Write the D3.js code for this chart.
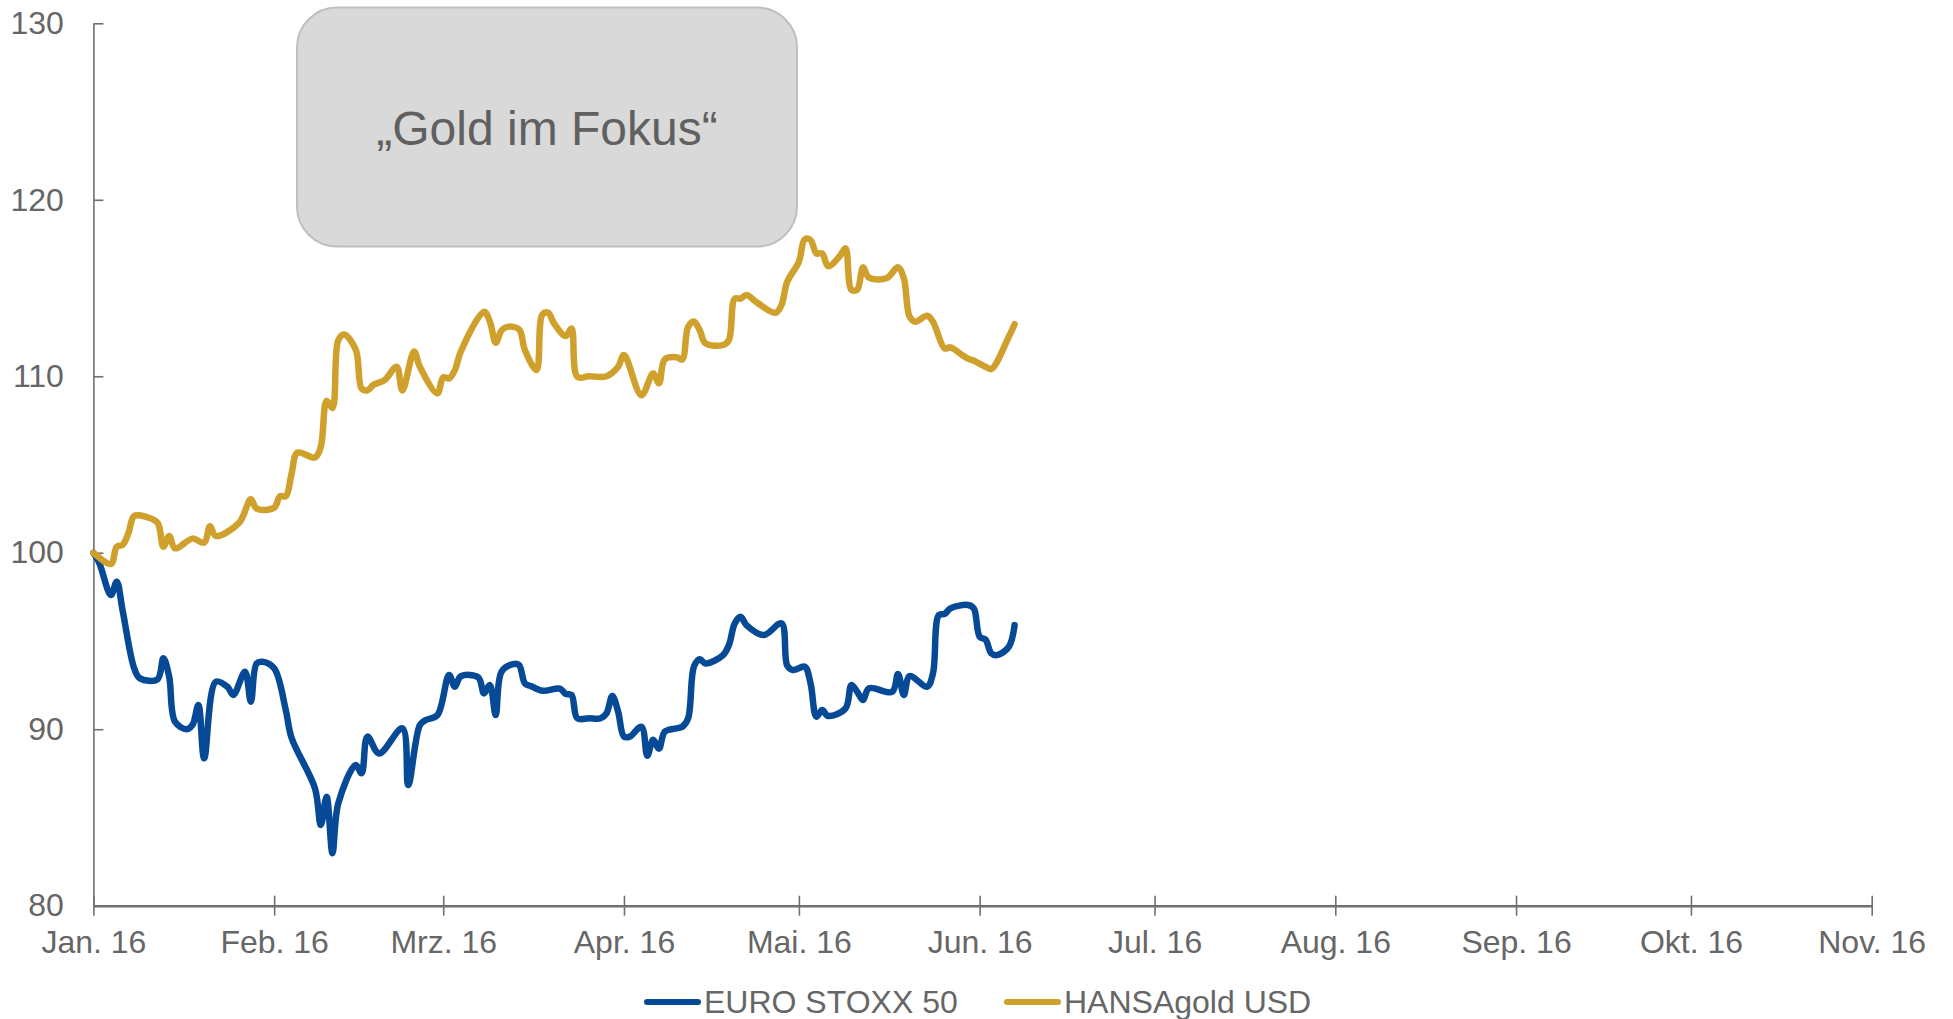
<!DOCTYPE html>
<html>
<head>
  <meta charset="utf-8" />
  <title>Gold im Fokus</title>
  <script src="https://d3js.org/d3.v7.min.js"></script>
  <style>
    body, html {
      margin: 0;
      padding: 0;
      background: #fff;
    }
    svg text {
      font-family: "Liberation Sans", Arial, sans-serif;
      fill: #666;
    }
  </style>
</head>
<body>
<svg id="chart" width="1953" height="1019"></svg>
<script>
// month tick labels
var monthLabels = ["Jan. 16", "Feb. 16", "Mrz. 16", "Apr. 16", "Mai. 16", "Jun. 16",
                   "Jul. 16", "Aug. 16", "Sep. 16", "Okt. 16", "Nov. 16"];
var yTicks = [80, 90, 100, 110, 120, 130];
var seriesNames = ["EURO STOXX 50", "HANSAgold USD"];

// EURO STOXX 50 (indexed, 100 = start)
var stoxxDates = ["2016-01-01","2016-01-02","2016-01-04","2016-01-05","2016-01-06","2016-01-08","2016-01-09",
  "2016-01-12","2016-01-13","2016-01-14","2016-01-15","2016-01-17","2016-01-18","2016-01-19","2016-01-20",
  "2016-01-22","2016-01-24","2016-01-25","2016-01-27","2016-01-28","2016-01-29","2016-01-30","2016-02-01",
  "2016-02-03","2016-02-04","2016-02-08","2016-02-09","2016-02-10","2016-02-11","2016-02-12","2016-02-15",
  "2016-02-16","2016-02-17","2016-02-19","2016-02-23","2016-02-24","2016-02-26","2016-02-27","2016-02-29",
  "2016-03-02","2016-03-03","2016-03-04","2016-03-07","2016-03-08","2016-03-09","2016-03-10","2016-03-11",
  "2016-03-13","2016-03-14","2016-03-15","2016-03-16","2016-03-18","2016-03-21","2016-03-22","2016-03-23",
  "2016-03-24","2016-03-26","2016-03-28","2016-03-29","2016-03-30","2016-03-31","2016-04-01","2016-04-02",
  "2016-04-04","2016-04-05","2016-04-06","2016-04-07","2016-04-08","2016-04-10","2016-04-11","2016-04-12",
  "2016-04-13","2016-04-14","2016-04-15","2016-04-18","2016-04-19","2016-04-20","2016-04-21","2016-04-22",
  "2016-04-25","2016-04-28","2016-04-29","2016-04-30","2016-05-02","2016-05-03","2016-05-04","2016-05-05",
  "2016-05-06","2016-05-09","2016-05-10","2016-05-11","2016-05-12","2016-05-13","2016-05-17","2016-05-18",
  "2016-05-19","2016-05-20","2016-05-23","2016-05-24","2016-05-25","2016-05-26","2016-05-27","2016-05-30",
  "2016-05-31","2016-06-01","2016-06-02","2016-06-03","2016-06-04","2016-06-06","2016-06-07"];
var stoxxValues = [100, 99.43, 97.6, 98.36, 96.75, 93.45, 92.88,
  92.83, 94.02, 92.97, 90.42, 90.0, 90.24, 91.37, 88.35,
  92.69, 92.4, 91.94, 93.26, 91.56, 93.73, 93.82, 93.45,
  91.08, 89.5, 86.65, 84.57, 86.18, 82.97, 85.8, 87.97,
  87.5, 89.58, 88.63, 90.05, 86.84, 90.24, 90.52, 90.8,
  93.07, 92.41, 93.0, 92.94, 92.03, 92.5, 90.8, 93.26,
  93.69, 93.64, 92.6, 92.45, 92.18, 92.3, 92.0, 91.94,
  90.62, 90.62, 90.62, 90.9, 91.88, 90.99, 89.58, 89.58,
  90.14, 88.5, 89.4, 88.9, 89.86, 90.05, 90.14, 90.62,
  93.54, 93.96, 93.73, 94.2, 94.77, 96.0, 96.37, 95.9,
  95.34, 96.0, 93.6, 93.35, 93.54, 92.6, 90.71, 91.09,
  90.75, 91.18, 92.5, 92.12, 91.65, 92.32, 92.12, 93.13,
  91.94, 93.01, 92.41, 93.17, 96.47, 96.53, 96.85, 97.04,
  96.85, 95.24, 95.08, 94.3, 94.2, 94.67, 95.9];

// HANSAgold USD (indexed, 100 = start)
var goldDates = ["2016-01-01","2016-01-04","2016-01-05","2016-01-06","2016-01-07","2016-01-08","2016-01-10",
  "2016-01-12","2016-01-13","2016-01-14","2016-01-15","2016-01-18","2016-01-20","2016-01-21","2016-01-22",
  "2016-01-26","2016-01-28","2016-01-29","2016-02-01","2016-02-02","2016-02-03","2016-02-04","2016-02-05",
  "2016-02-08","2016-02-09","2016-02-10","2016-02-11","2016-02-12","2016-02-13","2016-02-15","2016-02-16",
  "2016-02-17","2016-02-18","2016-02-20","2016-02-22","2016-02-23","2016-02-25","2016-02-26","2016-02-29",
  "2016-03-01","2016-03-02","2016-03-03","2016-03-04","2016-03-08","2016-03-09","2016-03-10","2016-03-11",
  "2016-03-12","2016-03-14","2016-03-15","2016-03-17","2016-03-18","2016-03-19","2016-03-20","2016-03-22",
  "2016-03-23","2016-03-24","2016-03-26","2016-03-29","2016-03-31","2016-04-01","2016-04-04","2016-04-06",
  "2016-04-07","2016-04-08","2016-04-10","2016-04-11","2016-04-12","2016-04-13","2016-04-14","2016-04-15",
  "2016-04-18","2016-04-19","2016-04-20","2016-04-21","2016-04-22","2016-04-24","2016-04-27","2016-04-28",
  "2016-04-29","2016-05-01","2016-05-02","2016-05-03","2016-05-04","2016-05-05","2016-05-06","2016-05-08",
  "2016-05-09","2016-05-10","2016-05-11","2016-05-12","2016-05-13","2016-05-16","2016-05-18","2016-05-19",
  "2016-05-20","2016-05-21","2016-05-23","2016-05-24","2016-05-26","2016-05-27","2016-05-29","2016-05-30",
  "2016-05-31","2016-06-02","2016-06-03","2016-06-06","2016-06-07"];
var goldValues = [100.0, 99.36, 100.34, 100.44, 101.1, 102.08, 102.04,
  101.7, 100.34, 100.95, 100.25, 100.8, 100.57, 101.5, 100.95,
  101.7, 103.03, 102.5, 102.55, 103.2, 103.2, 104.5, 105.67,
  105.4, 106.0, 108.6, 108.2, 112.05, 112.37, 111.5, 109.3,
  109.2, 109.5, 109.8, 110.54, 109.2, 111.4, 110.54, 109.03,
  109.94, 109.88, 110.35, 111.39, 113.65, 113.1, 111.9, 112.6,
  112.8, 112.66, 111.5, 110.35, 113.5, 113.6, 113.0, 112.28,
  112.71, 109.97, 110.0, 110.0, 110.54, 111.2, 108.93, 110.16,
  109.6, 110.96, 111.08, 110.96, 112.8, 113.1, 112.6, 111.86,
  111.77, 112.05, 114.4, 114.4, 114.6, 114.13, 113.6, 114.03,
  115.35, 116.49, 117.76, 117.72, 116.96, 116.96, 116.24, 116.8,
  117.25, 114.9, 114.9, 116.17, 115.6, 115.55, 116.17, 115.55,
  113.37, 113.09, 113.43, 113.09, 111.58, 111.64, 111.2, 111.0,
  110.88, 110.54, 110.41, 112.24, 112.95];

var parseDate = d3.timeParse("%Y-%m-%d");
var svg = d3.select("#chart");

var x = d3.scaleTime()
  .domain([new Date(2016, 0, 1), new Date(2016, 10, 1)])
  .range([93.4, 1871.7]);

var y = d3.scaleLinear()
  .domain([80, 130])
  .range([905.7, 23.3]);

// annotation box
svg.append("rect")
  .attr("x", 297).attr("y", 7.5)
  .attr("width", 500).attr("height", 239)
  .attr("rx", 40).attr("ry", 40)
  .attr("fill", "#d9d9d9")
  .attr("stroke", "#bfbfbf")
  .attr("stroke-width", 2);

svg.append("text")
  .attr("x", 547).attr("y", 145)
  .attr("text-anchor", "middle")
  .style("font-size", "48px")
  .style("fill", "#606060")
  .text("\u201EGold im Fokus\u201C");

// y axis
var yAxis = svg.append("g")
  .attr("transform", "translate(" + x.range()[0] + ",0)")
  .call(d3.axisLeft(y).tickValues(yTicks).tickSizeInner(10).tickSizeOuter(0).tickPadding(19.5));
yAxis.select(".domain").attr("stroke", "#707070").attr("stroke-width", 1.6);
yAxis.selectAll(".tick line").attr("x2", 10).attr("stroke", "#707070").attr("stroke-width", 1.6);
yAxis.selectAll(".tick text").style("font-size", "32px").attr("fill", "#666");

// x axis
var monthTicks = d3.timeMonth.range(new Date(2016, 0, 1), new Date(2016, 10, 2));
var xAxis = svg.append("g")
  .attr("transform", "translate(0," + y(80) + ")")
  .call(d3.axisBottom(x).tickValues(monthTicks)
    .tickFormat(function(d, i) { return monthLabels[i]; })
    .tickSizeInner(10).tickSizeOuter(0).tickPadding(15));
xAxis.select(".domain").attr("stroke", "#707070").attr("stroke-width", 2.6);
xAxis.selectAll(".tick line").attr("y1", -10).attr("stroke", "#707070").attr("stroke-width", 1.6);
xAxis.selectAll(".tick text").style("font-size", "32px").attr("fill", "#666");

// lines
var line = d3.line()
  .x(function(d) { return x(d.date); })
  .y(function(d) { return y(d.value); })
  .curve(d3.curveCatmullRom.alpha(0.5));

var stoxx = stoxxDates.map(function(d, i) { return { date: parseDate(d), value: stoxxValues[i] }; });
var gold = goldDates.map(function(d, i) { return { date: parseDate(d), value: goldValues[i] }; });
var colors = ["#064a97", "#cfa02b"];

[stoxx, gold].forEach(function(series, i) {
  svg.append("path")
    .datum(series)
    .attr("fill", "none")
    .attr("stroke", colors[i])
    .attr("stroke-width", 6.5)
    .attr("stroke-linejoin", "round")
    .attr("stroke-linecap", "round")
    .attr("d", line);
});

// legend
var legendX = [644, 1004];
var legend = svg.append("g");
seriesNames.forEach(function(name, i) {
  legend.append("line")
    .attr("x1", legendX[i] + 3).attr("x2", legendX[i] + 54)
    .attr("y1", 1002).attr("y2", 1002)
    .attr("stroke", colors[i])
    .attr("stroke-width", 6)
    .attr("stroke-linecap", "round");
  legend.append("text")
    .attr("x", legendX[i] + 60).attr("y", 1013)
    .style("font-size", "32px")
    .text(name);
});
</script>
</body>
</html>
